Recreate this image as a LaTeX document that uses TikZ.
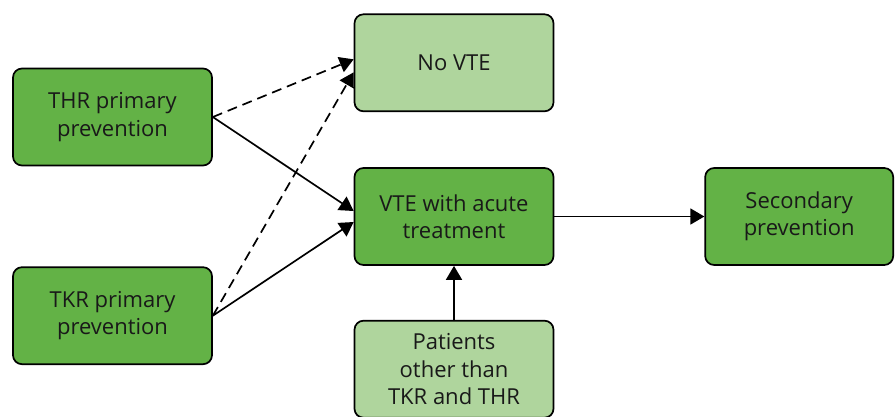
\documentclass[tikz,border=0pt]{standalone}
\usepackage{fontspec}
\setmainfont{Open Sans}
\usetikzlibrary{arrows.meta, positioning}

\definecolor{darkgreen}{RGB}{99,178,70}
\definecolor{lightgreen}{RGB}{175,213,157}

\begin{document}
\begin{tikzpicture}[
    box/.style={rectangle, draw, line width=1.7pt, rounded corners=9pt, minimum height=97pt, minimum width=199pt, align=center, text=black!90, font=\fontsize{22}{27.5}\selectfont},
    dark/.style={box, fill=darkgreen},
    light/.style={box, fill=lightgreen},
    arrow/.style={-{Triangle[length=14pt, width=16pt]}, line width=1.7pt},
    dasharrow/.style={arrow, dash pattern=on 10pt off 6pt},
    node distance=1cm and 1cm
]
\useasboundingbox (0,0) rectangle (896pt,-416pt);

% Nodes
% Primary prevention
\node[dark] (thr) at (112.5pt, -117pt) {THR primary\\prevention};
\node[dark, below=100pt of thr] (tkr) {TKR primary\\prevention};

% Outcomes
\node[dark] (vte) at (454pt, -216.5pt) {VTE with acute\\treatment};
\node[light, above=55pt of vte] (novte) {No VTE};
\node[light, below=54pt of vte] (patients) {Patients\\other than\\TKR and THR};
\node[dark, right=150pt of vte, minimum width=188pt] (secondary) {Secondary\\prevention};

% Arrows
\draw[dasharrow] (thr.east) -- ([yshift=3.5pt]novte.west);
\draw[dasharrow] (tkr.east) -- ([yshift=-9.5pt]novte.west);
\draw[arrow] (thr.east) -- ([yshift=5.5pt]vte.west);
\draw[arrow] (tkr.east) -- ([yshift=-5.5pt]vte.west);
\draw[arrow] (vte) -- (secondary);
\draw[arrow] (patients) -- (vte);

\end{tikzpicture}
\end{document}
